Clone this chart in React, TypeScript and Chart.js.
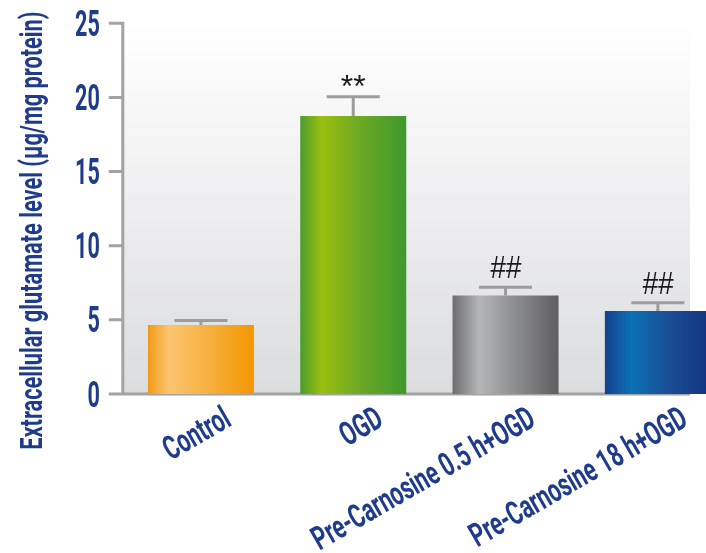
import { useEffect, useRef } from "react";
import { Chart, registerables } from "chart.js";

Chart.register(...registerables);

// Extracellular glutamate per treatment group (mean and SEM)
const groups = ["Control", "OGD", "Pre-Carnosine 0.5 h+OGD", "Pre-Carnosine 18 h+OGD"];
const glutamate = [4.65, 18.75, 6.65, 5.6];
const sem = [0.3, 1.3, 0.55, 0.55];
const significance = ["", "**", "##", "##"];
const yMin = 0;
const yMax = 25;
const yStep = 5;
const yTitle = "Extracellular glutamate level (μg/mg protein)";

// Horizontal "cylinder" shading for each bar
const barShades: [number, string][][] = [
  [[0, "#f29a16"], [0.2, "#fbc56f"], [0.55, "#f7b142"], [1, "#f39700"]],
  [[0, "#4a9c2c"], [0.2, "#9bbf10"], [0.55, "#6ea923"], [1, "#3f992e"]],
  [[0, "#6c6c6d"], [0.25, "#b5b6b8"], [0.6, "#8b8c8e"], [1, "#5f5f61"]],
  [[0, "#15408e"], [0.25, "#0b72b7"], [0.6, "#1a4e96"], [1, "#13337f"]],
];

const NAVY = "#1f3c8c";
const AXIS_GREY = "#a2a2a2";
const ERR_GREY = "#9d9d9d";
const LABEL_FONT = "Roboto, 'Liberation Sans', sans-serif";

function drawText(
  ctx: CanvasRenderingContext2D,
  text: string,
  x: number,
  y: number,
  rot: number,
  sx: number,
  font: string,
  align: CanvasTextAlign,
  dy = 0,
  color = NAVY
) {
  ctx.save();
  ctx.translate(x, y);
  ctx.rotate(rot);
  ctx.scale(sx, 1);
  ctx.font = font;
  ctx.fillStyle = color;
  ctx.textAlign = align;
  ctx.textBaseline = "alphabetic";
  ctx.fillText(text, 0, dy);
  ctx.restore();
}

const framePlugin = {
  id: "frame",
  beforeDatasetsDraw(chart: any) {
    const { ctx, chartArea, scales } = chart;
    const ys = scales.y;
    const top = ys.getPixelForValue(yMax);
    const base = ys.getPixelForValue(yMin);
    const axisX = chartArea.left - 2;
    const plotRight = chartArea.right - 44;

    ctx.save();
    const bg = ctx.createLinearGradient(0, top, 0, base);
    bg.addColorStop(0, "#ffffff");
    bg.addColorStop(1, "#dbdcde");
    ctx.fillStyle = bg;
    ctx.fillRect(axisX, top, plotRight - axisX, base - top);

    ctx.strokeStyle = AXIS_GREY;
    ctx.lineWidth = 3;
    ctx.beginPath();
    ctx.moveTo(axisX, top - 1.5);
    ctx.lineTo(axisX, base);
    for (const t of ys.ticks) {
      const py = ys.getPixelForValue(t.value);
      ctx.moveTo(axisX - 14, py);
      ctx.lineTo(axisX, py);
    }
    ctx.moveTo(axisX - 14, base);
    ctx.lineTo(plotRight, base);
    ctx.stroke();
    ctx.restore();
  },
  afterDatasetsDraw(chart: any) {
    const { ctx, chartArea, scales } = chart;
    const xs = scales.x;
    const ys = scales.y;
    const bars = chart.getDatasetMeta(0).data;
    const axisX = chartArea.left - 2;
    const base = ys.getPixelForValue(yMin);

    ctx.save();
    ctx.strokeStyle = ERR_GREY;
    ctx.lineWidth = 3;
    glutamate.forEach((v, i) => {
      const cx = xs.getPixelForValue(i);
      const yBar = ys.getPixelForValue(v);
      const yErr = ys.getPixelForValue(v + sem[i]);
      const half = bars[i].width / 4;
      ctx.beginPath();
      ctx.moveTo(cx, yBar);
      ctx.lineTo(cx, yErr);
      ctx.moveTo(cx - half, yErr);
      ctx.lineTo(cx + half, yErr);
      ctx.stroke();

      const mark = significance[i];
      if (mark) {
        const isStar = mark.includes("*");
        drawText(
          ctx,
          mark,
          cx,
          yErr - (isStar ? 0 : 9),
          0,
          isStar ? 1 : 0.9,
          isStar ? "32px 'Liberation Sans', Arial, sans-serif" : "italic 31px 'Liberation Sans', Arial, sans-serif",
          "center",
          0,
          "#1a1a1a"
        );
      }
    });
    ctx.restore();

    // y tick labels
    for (const t of ys.ticks) {
      const py = ys.getPixelForValue(t.value);
      drawText(ctx, String(t.value), axisX - 23, py + 12.5, 0, 0.6, `bold 36px ${LABEL_FONT}`, "right");
    }

    // category labels, rotated
    const rot = (-30 * Math.PI) / 180;
    groups.forEach((g, i) => {
      const cx = xs.getPixelForValue(i);
      drawText(ctx, g, cx + 20, base + 10, rot, 0.66, `bold 33px ${LABEL_FONT}`, "right", 24);
    });

    // y axis title
    const top = ys.getPixelForValue(yMax);
    drawText(ctx, yTitle, 42, (top + base) / 2 + 22, -Math.PI / 2, 0.68, `bold 32px ${LABEL_FONT}`, "center");
  },
};

export default function App() {
  const canvasRef = useRef<HTMLCanvasElement | null>(null);

  useEffect(() => {
    const canvas = canvasRef.current;
    if (!canvas) return;
    const chart = new Chart(canvas, {
      type: "bar",
      data: {
        labels: groups,
        datasets: [
          {
            data: glutamate,
            borderWidth: 0,
            barPercentage: 0.696,
            categoryPercentage: 1,
            backgroundColor: (c: any) => {
              const ch = c.chart;
              const stops = barShades[c.dataIndex % barShades.length];
              if (!ch.chartArea || !ch.scales.x) return stops[stops.length - 1][1];
              const xs = ch.scales.x;
              const cx = xs.getPixelForValue(c.dataIndex);
              const w = (xs.width / groups.length) * 0.696;
              const grad = ch.ctx.createLinearGradient(cx - w / 2, 0, cx + w / 2, 0);
              stops.forEach(([o, col]) => grad.addColorStop(o, col));
              return grad;
            },
          },
        ],
      },
      options: {
        animation: false,
        responsive: false,
        devicePixelRatio: 1,
        layout: { padding: { left: 124.8, top: 23.3, right: 6, bottom: 159 } },
        plugins: { legend: { display: false }, tooltip: { enabled: false } },
        scales: {
          x: { display: false, offset: true },
          y: { display: false, min: yMin, max: yMax, ticks: { stepSize: yStep } },
        },
      },
      plugins: [framePlugin],
    });
    return () => chart.destroy();
  }, []);

  return (
    <div
      style={{
        position: "fixed",
        left: 0,
        top: 0,
        width: 706,
        height: 553,
        overflow: "hidden",
        background: "#ffffff",
      }}
    >
      <canvas ref={canvasRef} width={740} height={553} style={{ width: 740, height: 553, display: "block" }} />
    </div>
  );
}
